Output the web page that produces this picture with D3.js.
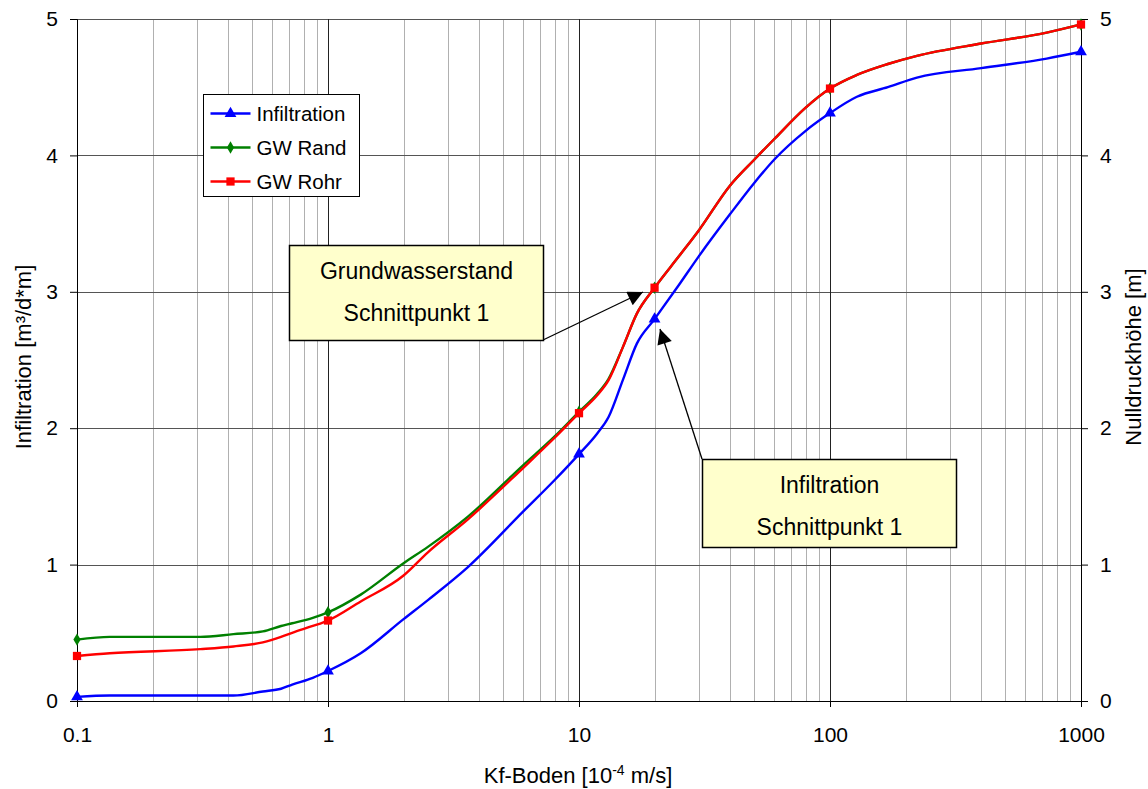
<!DOCTYPE html>
<html>
<head>
<meta charset="utf-8">
<script src="https://cdn.jsdelivr.net/npm/d3@7"></script>
<style>
  body { margin: 0; background: #fff; }
  text { font-family: Arial, "Liberation Sans", sans-serif; fill: #000; }
</style>
</head>
<body>
<div id="chart"></div>
<script>
// Sample data
const kf = [0.1, 0.135, 0.31, 0.42, 0.55, 0.65, 0.72, 0.87, 1, 1.35, 2, 2.5, 3.6, 6, 8, 10,
  11.8, 13.1, 15, 17, 20, 25, 30, 40, 50, 60, 80, 100, 128, 170, 222, 400, 730, 1000];
const infiltration = [0.03, 0.04, 0.04, 0.04, 0.07, 0.09, 0.12, 0.17, 0.22, 0.35, 0.6, 0.74, 0.98, 1.39, 1.62, 1.81,
  1.96, 2.08, 2.36, 2.62, 2.8, 3.05, 3.26, 3.57, 3.8, 3.97, 4.18, 4.31, 4.43, 4.5, 4.57, 4.64, 4.71, 4.76];
const gwRand = [0.45, 0.47, 0.47, 0.49, 0.51, 0.55, 0.57, 0.61, 0.65, 0.78, 1.01, 1.13, 1.35, 1.73, 1.94, 2.12,
  2.25, 2.36, 2.6, 2.84, 3.03, 3.26, 3.45, 3.78, 3.97, 4.12, 4.35, 4.49, 4.59, 4.67, 4.73, 4.82, 4.9, 4.96];
const gwRohr = [0.33, 0.35, 0.38, 0.4, 0.43, 0.47, 0.5, 0.55, 0.59, 0.73, 0.92, 1.09, 1.33, 1.71, 1.93, 2.11,
  2.24, 2.35, 2.6, 2.84, 3.03, 3.26, 3.45, 3.78, 3.97, 4.12, 4.35, 4.49, 4.59, 4.67, 4.73, 4.82, 4.9, 4.96];
const markedKf = [0.1, 1, 10, 20, 100, 1000];
const xTicks = [0.1, 1, 10, 100, 1000];
const yTicks = [0, 1, 2, 3, 4, 5];

const series = [
  { name: 'Infiltration', values: infiltration, color: '#0000ff', symbol: d3.symbolTriangle, size: 60 },
  { name: 'GW Rand', values: gwRand, color: '#008000', symbol: d3.symbolDiamond, size: 45 },
  { name: 'GW Rohr', values: gwRohr, color: '#ff0000', symbol: d3.symbolSquare, size: 68 }
];

const width = 1148, height = 789;
const margin = { top: 19, right: 67, bottom: 88, left: 77 };
const w = width - margin.left - margin.right;
const h = height - margin.top - margin.bottom;

const x = d3.scaleLog().domain([0.1, 1000]).range([0, w]);
const y = d3.scaleLinear().domain([0, 5]).range([h, 0]);

const svg = d3.select('#chart').append('svg')
  .attr('width', width)
  .attr('height', height);

const defs = svg.append('defs');
defs.append('marker')
  .attr('id', 'arrow')
  .attr('viewBox', '0 0 10 10')
  .attr('refX', 10).attr('refY', 5)
  .attr('markerWidth', 18).attr('markerHeight', 15)
  .attr('markerUnits', 'userSpaceOnUse')
  .attr('orient', 'auto')
  .append('path')
  .attr('d', 'M0,0 L10,5 L0,10 Z')
  .attr('fill', '#000');

const g = svg.append('g').attr('transform', `translate(${margin.left},${margin.top})`);

// minor vertical grid
const minor = [];
for (let e = -1; e < 3; e++) {
  for (let m = 2; m <= 9; m++) minor.push(m * Math.pow(10, e));
}
g.append('g').selectAll('line').data(minor).enter().append('line')
  .attr('x1', d => Math.round(x(d)) + 0.5).attr('x2', d => Math.round(x(d)) + 0.5)
  .attr('y1', 0).attr('y2', h)
  .attr('stroke', '#b0b0b0').attr('stroke-width', 1);

// horizontal grid
g.append('g').selectAll('line').data(yTicks.slice(1)).enter().append('line')
  .attr('x1', 0).attr('x2', w)
  .attr('y1', d => Math.round(y(d)) + 0.5).attr('y2', d => Math.round(y(d)) + 0.5)
  .attr('stroke', '#555').attr('stroke-width', 1);

// major vertical grid
g.append('g').selectAll('line').data(xTicks.slice(1, -1)).enter().append('line')
  .attr('x1', d => Math.round(x(d)) + 0.5).attr('x2', d => Math.round(x(d)) + 0.5)
  .attr('y1', 0).attr('y2', h)
  .attr('stroke', '#222').attr('stroke-width', 1);

// axes
const xAxis = g.append('g')
  .attr('transform', `translate(0,${h})`)
  .call(d3.axisBottom(x).tickValues(xTicks).tickFormat(d3.format('')).tickSize(6).tickPadding(20));
const yLeft = g.append('g')
  .call(d3.axisLeft(y).tickValues(yTicks).tickFormat(d3.format('d')).tickSize(7).tickPadding(12));
const yRight = g.append('g')
  .attr('transform', `translate(${w},0)`)
  .call(d3.axisRight(y).tickValues(yTicks).tickFormat(d3.format('d')).tickSize(7).tickPadding(12));

[xAxis, yLeft, yRight].forEach(a => {
  a.select('.domain').attr('stroke', '#000');
  a.selectAll('line').attr('stroke', '#000');
  a.selectAll('text').style('font-size', '21px').attr('fill', '#000');
});

// lines
const line = d3.line()
  .x(d => x(d[0]))
  .y(d => y(d[1]))
  .curve(d3.curveMonotoneX);

series.forEach(s => {
  const pts = kf.map((k, i) => [k, s.values[i]]);
  g.append('path')
    .datum(pts)
    .attr('fill', 'none')
    .attr('stroke', s.color)
    .attr('stroke-width', 2.4)
    .attr('d', line);

  g.append('g').selectAll('path')
    .data(pts.filter(p => markedKf.includes(p[0])))
    .enter().append('path')
    .attr('d', d3.symbol().type(s.symbol).size(s.size))
    .attr('transform', d => `translate(${x(d[0])},${y(d[1])})`)
    .attr('fill', s.color);
});

// legend
const legend = svg.append('g').attr('transform', 'translate(203.5,94.5)');
legend.append('rect')
  .attr('width', 156).attr('height', 102)
  .attr('fill', '#fff').attr('stroke', '#000');
series.forEach((s, i) => {
  const ly = 19 + i * 34;
  legend.append('line')
    .attr('x1', 7).attr('x2', 47).attr('y1', ly).attr('y2', ly)
    .attr('stroke', s.color).attr('stroke-width', 2.4);
  legend.append('path')
    .attr('d', d3.symbol().type(s.symbol).size(s.size))
    .attr('transform', `translate(27,${ly})`)
    .attr('fill', s.color);
  legend.append('text')
    .attr('x', 53).attr('y', ly + 7)
    .style('font-size', '20.5px')
    .text(s.name);
});

// annotations
const notes = [
  { lines: ['Grundwasserstand', 'Schnittpunkt 1'], box: [289.5, 245.5, 254, 95], from: [543, 340], to: [643, 292] },
  { lines: ['Infiltration', 'Schnittpunkt 1'], box: [702.5, 459.5, 254, 88], from: [702, 459], to: [660, 329] }
];
notes.forEach(n => {
  svg.append('line')
    .attr('x1', n.from[0]).attr('y1', n.from[1])
    .attr('x2', n.to[0]).attr('y2', n.to[1])
    .attr('stroke', '#000').attr('stroke-width', 1.3)
    .attr('marker-end', 'url(#arrow)');
  svg.append('rect')
    .attr('x', n.box[0]).attr('y', n.box[1])
    .attr('width', n.box[2]).attr('height', n.box[3])
    .attr('fill', '#ffffcc').attr('stroke', '#000').attr('stroke-width', 1.5);
  n.lines.forEach((t, i) => {
    svg.append('text')
      .attr('x', n.box[0] + n.box[2] / 2)
      .attr('y', n.box[1] + 33 + i * 42)
      .attr('text-anchor', 'middle')
      .style('font-size', '23px')
      .text(t);
  });
});

// axis titles
const xt = svg.append('text')
  .attr('x', 578).attr('y', 783)
  .attr('text-anchor', 'middle')
  .style('font-size', '22px');
xt.append('tspan').text('Kf-Boden [10');
xt.append('tspan').attr('dy', -8).style('font-size', '14px').text('-4');
xt.append('tspan').attr('dy', 8).text(' m/s]');

svg.append('text')
  .attr('transform', 'translate(31,357) rotate(-90)')
  .attr('text-anchor', 'middle')
  .style('font-size', '22px')
  .text('Infiltration [m³/d*m]');

svg.append('text')
  .attr('transform', 'translate(1141,357) rotate(-90)')
  .attr('text-anchor', 'middle')
  .style('font-size', '22px')
  .text('Nulldruckhöhe [m]');
</script>
</body>
</html>
